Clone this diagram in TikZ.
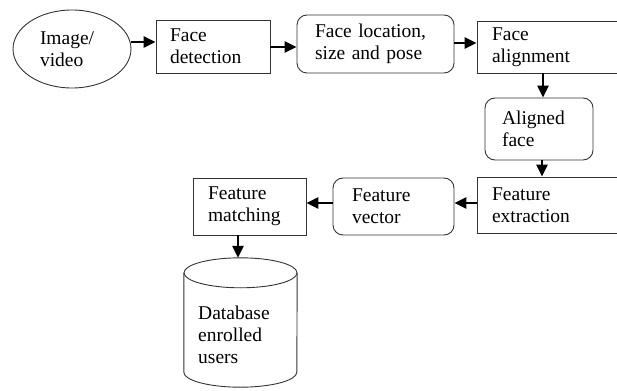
\documentclass[tikz,border=0pt]{standalone}
\usepackage{fontspec}
\setmainfont{Liberation Serif}
\usetikzlibrary{arrows.meta,shapes.geometric}

\tikzset{
  x=1pt, y=-1pt,
  every node/.style={font=\fontsize{19.5}{22}\selectfont, text=black},
  box/.style={draw=black!80, line width=0.9pt, rectangle, align=left,
              inner ysep=0pt, minimum height=#1},
  rbox/.style={box=#1, rounded corners=10pt},
  arr/.style={draw=black, line width=2.4pt,
              -{Triangle[length=12pt,width=11pt]}},
  outline/.style={draw=black!80, line width=0.9pt},
}

\begin{document}
\begin{tikzpicture}
\useasboundingbox (0,0) rectangle (617,390);

% input
\node[ellipse, outline, minimum width=118pt, minimum height=78pt, inner sep=0pt,
      text width=64pt, align=left] (img) at (72,49) {Image/\\video};

% top row
\node[box=53pt, inner xsep=14pt, text width=86pt]  (fd) at (213,46.5)   {Face\\detection};
\node[rbox=58pt, inner xsep=18pt, text width=121pt] (fl) at (375.5,44)  {Face location,\\size and pose};
\node[box=52pt, inner xsep=15pt, text width=123pt] (fa) at (553.5,47)   {Face\\alignment};

% right column
\node[rbox=62pt, inner xsep=17pt, text width=74pt] (af) at (539,129)    {Aligned\\face};
\node[box=56pt, inner xsep=15pt, text width=123pt] (fe) at (553.5,205)  {Feature\\extraction};

% bottom row
\node[rbox=57pt, inner xsep=19pt, text width=83pt] (fv) at (393.5,206.5) {Feature\\vector};
\node[box=57pt, inner xsep=15pt, text width=83pt]  (fm) at (249.5,206.5) {Feature\\matching};

% database cylinder
\node[rectangle, minimum width=113pt, minimum height=129pt, inner sep=0pt] (db) at (240.5,322.5) {};
\draw[outline] ([yshift=-15pt]db.north) ellipse [x radius=56.5pt, y radius=15pt];
\draw[outline] ([yshift=-15pt]db.north west) -- ([yshift=15pt]db.south west)
  arc[start angle=180, end angle=360, x radius=56.5pt, y radius=15pt]
  -- ([yshift=-15pt]db.north east);
% label: baseline of the last line
\node[anchor=base west, align=left, inner sep=0pt] (dbtext) at (198,363)
  {Database\\enrolled\\users};

% flow
\draw[arr] (img.east |- 0,42) -- (fd.west |- 0,42);
\draw[arr] (fd.east |- 0,47)  -- (fl.west |- 0,47);
\draw[arr] (fl.east |- 0,43)  -- (fa.west |- 0,43);
\draw[arr] (fa.south -| 543,0) -- (af.north -| 543,0);
\draw[arr] (af.south -| 542,0) -- (fe.north -| 542,0);
\draw[arr] (fe.west |- 0,203) -- (fv.east |- 0,203);
\draw[arr] (fv.west |- 0,203) -- (fm.east |- 0,203);
\draw[arr] (fm.south -| 238,0) -- (db.north -| 238,0);
\end{tikzpicture}
\end{document}
